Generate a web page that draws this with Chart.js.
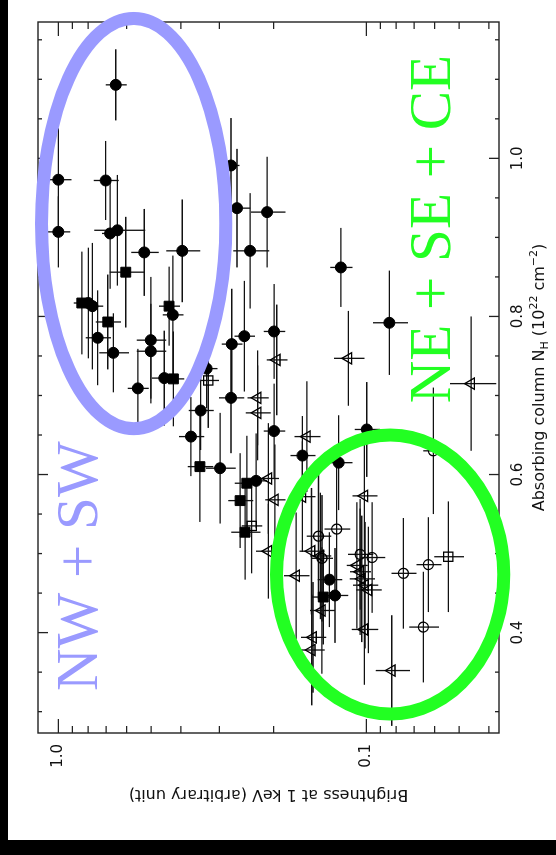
<!DOCTYPE html>
<html>
<head>
<meta charset="utf-8">
<script src="https://cdn.jsdelivr.net/npm/chart.js@4.4.1/dist/chart.umd.min.js"></script>
<style>
  html, body { margin: 0; padding: 0; background: #000; overflow: hidden; }
  /* the plot is drawn landscape, then turned a quarter turn to the left */
  #wrap {
    position: absolute; left: 0; top: 0; width: 855px; height: 556px;
    transform-origin: 0 0; transform: translateY(855px) rotate(-90deg);
  }
</style>
</head>
<body>
<div id="wrap"><canvas id="plot" width="855" height="556"></canvas></div>
<script>
// Axis ranges
const nhMin = 0.273, nhMax = 1.1725;
const brMin = 0.0371, brMax = 1.164;
const nhLabels = [0.4, 0.6, 0.8, 1.0];
const brLabels = [0.1, 1.0];

// Filled circles
const circNH    = [1.093, 0.973, 0.972, 0.991, 0.907, 0.905, 0.909, 0.881, 0.883, 0.817, 0.813, 0.802, 0.773, 0.754, 0.770, 0.756, 0.722, 0.709, 0.937, 0.932, 0.883, 0.862, 0.792, 0.781, 0.765, 0.775, 0.734, 0.697, 0.681, 0.648, 0.655, 0.608, 0.592, 0.624, 0.615, 0.657, 0.467, 0.447];
const circNHErr = [0.045, 0.065, 0.050, 0.060, 0.045, 0.070, 0.070, 0.055, 0.065, 0.070, 0.080, 0.075, 0.060, 0.050, 0.080, 0.060, 0.060, 0.050, 0.075, 0.070, 0.073, 0.050, 0.066, 0.060, 0.070, 0.070, 0.050, 0.070, 0.050, 0.050, 0.060, 0.070, 0.060, 0.050, 0.060, 0.060, 0.060, 0.060];
const circBr    = [0.651, 1.000, 0.702, 0.275, 1.000, 0.679, 0.643, 0.526, 0.396, 0.799, 0.775, 0.425, 0.745, 0.663, 0.501, 0.501, 0.453, 0.552, 0.263, 0.210, 0.2385, 0.121, 0.0842, 0.1994, 0.2735, 0.249, 0.330, 0.275, 0.345, 0.371, 0.1994, 0.2985, 0.228, 0.1613, 0.123, 0.0997, 0.1318, 0.1264];
const circBrErr = [0.051, 0.094, 0.066, 0.017, 0.086, 0.042, 0.121, 0.054, 0.050, 0.056, 0.060, 0.033, 0.070, 0.073, 0.055, 0.055, 0.043, 0.043, 0.025, 0.027, 0.032, 0.010, 0.011, 0.016, 0.021, 0.019, 0.026, 0.026, 0.032, 0.035, 0.016, 0.033, 0.018, 0.015, 0.012, 0.0094, 0.012, 0.012];

// Filled squares
const sqNH    = [0.856, 0.817, 0.813, 0.793, 0.721, 0.610, 0.589, 0.567, 0.527, 0.445];
const sqNHErr = [0.070, 0.065, 0.050, 0.060, 0.060, 0.070, 0.060, 0.060, 0.060, 0.060];
const sqBr    = [0.604, 0.839, 0.437, 0.691, 0.423, 0.347, 0.2444, 0.257, 0.2476, 0.138];
const sqBrErr = [0.077, 0.052, 0.034, 0.065, 0.033, 0.033, 0.023, 0.024, 0.027, 0.013];

// Open triangles
const triNH    = [0.697, 0.678, 0.595, 0.568, 0.503, 0.745, 0.747, 0.715, 0.648, 0.572, 0.573, 0.503, 0.472, 0.428, 0.404, 0.394, 0.378, 0.352, 0.485, 0.477, 0.468, 0.460, 0.454, 0.497];
const triNHErr = [0.060, 0.060, 0.070, 0.070, 0.060, 0.070, 0.060, 0.085, 0.070, 0.070, 0.070, 0.080, 0.080, 0.080, 0.070, 0.070, 0.070, 0.070, 0.080, 0.080, 0.080, 0.080, 0.080, 0.080];
const triBr    = [0.2253, 0.2253, 0.208, 0.198, 0.208, 0.1954, 0.1144, 0.0457, 0.156, 0.1613, 0.1015, 0.1507, 0.169, 0.1395, 0.1015, 0.149, 0.1504, 0.0827, 0.1074, 0.1048, 0.1035, 0.1010, 0.0985, 0.141];
const triBrErr = [0.018, 0.021, 0.016, 0.015, 0.020, 0.015, 0.013, 0.0078, 0.015, 0.015, 0.0095, 0.014, 0.016, 0.013, 0.010, 0.014, 0.014, 0.0105, 0.0084, 0.0082, 0.0097, 0.0095, 0.0093, 0.011];

// Open circles
const ocNH    = [0.630, 0.531, 0.522, 0.499, 0.495, 0.486, 0.475, 0.407, 0.494];
const ocNHErr = [0.080, 0.080, 0.080, 0.070, 0.070, 0.060, 0.070, 0.070, 0.080];
const ocBr    = [0.0606, 0.1248, 0.143, 0.1048, 0.0958, 0.0629, 0.0758, 0.0653, 0.1393];
const ocBrErr = [0.0047, 0.012, 0.013, 0.0099, 0.009, 0.0059, 0.0071, 0.0072, 0.011];

// Open squares
const osNH    = [0.719, 0.535, 0.496];
const osNHErr = [0.060, 0.060, 0.070];
const osBr    = [0.326, 0.2356, 0.0542];
const osBrErr = [0.025, 0.018, 0.006];

// Region outlines (bounds in N_H and brightness) and their labels
const nwRegion = { nh: [0.658, 1.177], br: [0.286, 1.134], color: '#9a9aff' };
const neRegion = { nh: [0.297, 0.650], br: [0.0358, 0.1957], color: '#22ff22' };
const nwLabel = { text: 'NW + SW', nh: 0.484, br: 0.749, color: '#9a9aff' };
const neLabel = { text: 'NE + SE + CE', nh: 0.9105, br: 0.0535, color: '#22ff22' };

function points(xs, ys) {
  return xs.map((x, i) => ({ x: x, y: ys[i] }));
}

function tickValuesNH() {
  const out = [];
  for (let k = 6; k <= 23; k++) out.push(k * 0.05);
  return out.filter(v => v > nhMin && v < nhMax);
}

function tickValuesBr() {
  const out = [];
  [0.01, 0.1].forEach(m => { for (let k = 1; k <= 9; k++) out.push(k * m); });
  out.push(1.0);
  return out.filter(v => v > brMin && v < brMax);
}

// text with sub/superscript pieces, centred on cx
function drawRichText(ctx, parts, cx, baseY, family) {
  let total = 0;
  parts.forEach(p => { ctx.font = p.size + 'px ' + family; total += ctx.measureText(p.t).width; });
  let x = cx - total / 2;
  parts.forEach(p => {
    ctx.font = p.size + 'px ' + family;
    ctx.fillText(p.t, x, baseY + (p.dy || 0));
    x += ctx.measureText(p.t).width;
  });
}

const framePlugin = {
  id: 'frame',
  beforeDraw(chart) {
    const ctx = chart.ctx;
    ctx.save();
    ctx.fillStyle = '#000';
    ctx.fillRect(0, 0, chart.width, chart.height);
    ctx.fillStyle = '#fff';
    ctx.fillRect(15, 8, chart.width - 15, chart.height - 8);
    ctx.restore();
  },
  beforeDatasetsDraw(chart) {
    // error bars under the markers
    const ctx = chart.ctx, xs = chart.scales.x, ys = chart.scales.y;
    ctx.save();
    ctx.strokeStyle = '#111';
    ctx.lineWidth = 1.3;
    chart.data.datasets.forEach(ds => {
      ds.data.forEach((p, i) => {
        const ex = ds.errX[i], ey = ds.errY[i];
        const px = xs.getPixelForValue(p.x), py = ys.getPixelForValue(p.y);
        ctx.beginPath();
        ctx.moveTo(xs.getPixelForValue(p.x - ex), py);
        ctx.lineTo(xs.getPixelForValue(p.x + ex), py);
        ctx.moveTo(px, ys.getPixelForValue(p.y - ey));
        ctx.lineTo(px, ys.getPixelForValue(p.y + ey));
        ctx.stroke();
      });
    });
    ctx.restore();
  },
  afterDraw(chart) {
    const ctx = chart.ctx, a = chart.chartArea;
    const xs = chart.scales.x, ys = chart.scales.y;
    ctx.save();

    // box
    ctx.strokeStyle = '#222';
    ctx.lineWidth = 1.4;
    ctx.strokeRect(a.left, a.top, a.right - a.left, a.bottom - a.top);

    // inward ticks on all four sides
    ctx.lineWidth = 1.3;
    ctx.beginPath();
    tickValuesNH().forEach(v => {
      const major = Math.abs(v * 5 - Math.round(v * 5)) < 1e-6;
      const len = major ? 10 : 4;
      const x = xs.getPixelForValue(v);
      ctx.moveTo(x, a.bottom); ctx.lineTo(x, a.bottom - len);
      ctx.moveTo(x, a.top); ctx.lineTo(x, a.top + len);
    });
    tickValuesBr().forEach(v => {
      const major = Math.abs(Math.log10(v) - Math.round(Math.log10(v))) < 1e-6;
      const len = major ? 14 : 7;
      const y = ys.getPixelForValue(v);
      ctx.moveTo(a.left, y); ctx.lineTo(a.left + len, y);
      ctx.moveTo(a.right, y); ctx.lineTo(a.right - len, y);
    });
    ctx.stroke();

    // axis titles
    ctx.fillStyle = '#111';
    ctx.textAlign = 'left';
    ctx.textBaseline = 'alphabetic';
    drawRichText(ctx, [
      { t: 'Absorbing column N', size: 16 },
      { t: 'H', size: 11, dy: 4 },
      { t: ' (10', size: 16 },
      { t: '22', size: 11, dy: -7 },
      { t: ' cm', size: 16 },
      { t: '\u22122', size: 11, dy: -7 },
      { t: ')', size: 16 }
    ], (a.left + a.right) / 2, a.bottom + 45, '"DejaVu Sans", sans-serif');

    ctx.save();
    ctx.translate(a.left - 61, (a.top + a.bottom) / 2);
    ctx.rotate(-Math.PI / 2);
    ctx.font = '16px "DejaVu Sans", sans-serif';
    ctx.textAlign = 'center';
    ctx.textBaseline = 'middle';
    ctx.fillText('Brightness at 1 keV (arbitrary unit)', 0, 0);
    ctx.restore();

    // region outlines
    [nwRegion, neRegion].forEach(r => {
      const x1 = xs.getPixelForValue(r.nh[0]), x2 = xs.getPixelForValue(r.nh[1]);
      const y1 = ys.getPixelForValue(r.br[0]), y2 = ys.getPixelForValue(r.br[1]);
      ctx.beginPath();
      ctx.ellipse((x1 + x2) / 2, (y1 + y2) / 2, Math.abs(x2 - x1) / 2, Math.abs(y2 - y1) / 2, 0, 0, Math.PI * 2);
      ctx.strokeStyle = r.color;
      ctx.lineWidth = 13;
      ctx.stroke();
    });

    // region names
    [nwLabel, neLabel].forEach(l => {
      ctx.font = '59px "Liberation Serif", "Times New Roman", serif';
      ctx.fillStyle = l.color;
      ctx.textAlign = 'center';
      ctx.textBaseline = 'alphabetic';
      ctx.fillText(l.text, xs.getPixelForValue(l.nh), ys.getPixelForValue(l.br));
    });

    ctx.restore();
  }
};

const tickFont = { family: '"DejaVu Sans", sans-serif', size: 15 };

new Chart(document.getElementById('plot'), {
  type: 'scatter',
  data: {
    datasets: [
      { label: 'filled circles', data: points(circNH, circBr), errX: circNHErr, errY: circBrErr,
        pointStyle: 'circle', pointRadius: 5.5, backgroundColor: '#000', borderColor: '#000', borderWidth: 1 },
      { label: 'filled squares', data: points(sqNH, sqBr), errX: sqNHErr, errY: sqBrErr,
        pointStyle: 'rect', pointRadius: 7, backgroundColor: '#000', borderColor: '#000', borderWidth: 1 },
      { label: 'open triangles', data: points(triNH, triBr), errX: triNHErr, errY: triBrErr,
        pointStyle: 'triangle', pointRadius: 6.5, backgroundColor: 'rgba(0,0,0,0)', borderColor: '#000', borderWidth: 1.3 },
      { label: 'open circles', data: points(ocNH, ocBr), errX: ocNHErr, errY: ocBrErr,
        pointStyle: 'circle', pointRadius: 5, backgroundColor: 'rgba(0,0,0,0)', borderColor: '#000', borderWidth: 1.3 },
      { label: 'open squares', data: points(osNH, osBr), errX: osNHErr, errY: osBrErr,
        pointStyle: 'rect', pointRadius: 6.5, backgroundColor: 'rgba(0,0,0,0)', borderColor: '#000', borderWidth: 1.3 }
    ]
  },
  options: {
    responsive: false,
    devicePixelRatio: 1,
    animation: false,
    events: [],
    clip: false,
    layout: { padding: { left: 0, top: 38, right: 22, bottom: 0 } },
    plugins: { legend: { display: false }, tooltip: { enabled: false } },
    scales: {
      x: {
        type: 'linear', position: 'bottom', min: nhMin, max: nhMax,
        grid: { display: false, drawTicks: false }, border: { display: false },
        afterBuildTicks: s => { s.ticks = nhLabels.map(v => ({ value: v })); },
        afterFit: s => { s.height = 57; },
        ticks: { autoSkip: false, maxRotation: 0, padding: 10, color: '#111', font: tickFont,
                 callback: v => Number(v).toFixed(1) }
      },
      y: {
        type: 'logarithmic', position: 'left', min: brMin, max: brMax,
        grid: { display: false, drawTicks: false }, border: { display: false },
        afterBuildTicks: s => { s.ticks = brLabels.map(v => ({ value: v })); },
        afterFit: s => { s.width = 122; },
        ticks: { autoSkip: false, padding: 11, color: '#111', font: tickFont,
                 callback: v => Number(v).toFixed(1) }
      }
    }
  },
  plugins: [framePlugin]
});
</script>
</body>
</html>
